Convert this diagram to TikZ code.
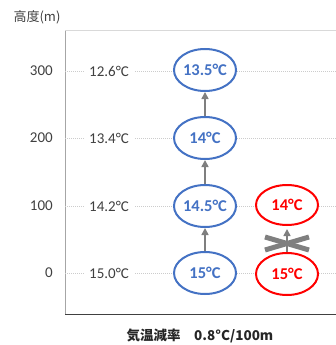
\documentclass[tikz,border=0pt]{standalone}
\usepackage{fontspec}
\setmainfont{Carlito}
\newfontfamily\jp{Noto Sans CJK JP}
\usetikzlibrary{arrows.meta,shapes.geometric}
\definecolor{bl}{HTML}{4472C4}
\definecolor{rd}{HTML}{FF0000}
\definecolor{txt}{HTML}{404040}
\definecolor{arrgray}{HTML}{7F7F7F}
\definecolor{gridc}{HTML}{CCCCCC}
\tikzset{
  grid/.style={gridc, line width=0.5pt, dash pattern=on 1pt off 1pt},
  lab/.style={text=txt, font=\fontsize{15}{17}\selectfont, fill=white, inner xsep=5pt, inner ysep=2pt},
  ylab/.style={text=txt, font=\fontsize{15}{17}\selectfont, anchor=east, inner sep=0pt},
  bub/.style={shape=ellipse, minimum width=62pt, minimum height=42pt, inner sep=0pt, line width=2pt, fill=white, font=\fontsize{16.5}{18}\selectfont\bfseries},
  bbub/.style={bub, draw=bl, text=bl},
  rbub/.style={bub, draw=rd, text=rd},
  arr/.style={arrgray, line width=1.6pt, -{Triangle[length=7pt,width=7pt]}},
  crossbar/.style={arrgray, line width=5pt}
}
\begin{document}
\begin{tikzpicture}[x=1pt,y=-1pt]
\useasboundingbox (0,0) rectangle (336,345);
% frame
\draw[color=black!15, line width=1pt] (65,31) -- (336,31);
\draw[color=black!35, line width=1pt] (65,31) -- (65,314);
\draw[color=black!75, line width=1pt] (65,314) -- (336,314);
% grid lines
\foreach \y in {71,138,206,273} \draw[grid] (65,\y) -- (336,\y);
% axis title
\node[text=txt, font=\jp\fontsize{13}{15}\selectfont, inner sep=0pt] (ytitle) at (37,17) {高度(m)};
% y labels
\node[ylab] (y300) at (53,71) {300};
\node[ylab] (y200) at (53,138) {200};
\node[ylab] (y100) at (53,206) {100};
\node[ylab] (y0) at (53,273) {0};
% temperature labels
\node[lab] (t300) at (109,71) {12.6°C};
\node[lab] (t200) at (109,138) {13.4°C};
\node[lab] (t100) at (109,206) {14.2°C};
\node[lab] (t0) at (109,273) {15.0°C};
% blue parcels
\node[bbub] (b135) at (205,70) {13.5°C};
\node[bbub] (b14) at (205,138) {14°C};
\node[bbub] (b145) at (205,206) {14.5°C};
\node[bbub] (b15) at (205,273) {15°C};
% red parcels
\node[rbub, minimum height=40pt] (r14) at (287,205) {14°C};
\node[rbub] (r15) at (287,274) {15°C};
% arrows
\draw[arr] (b15) -- (b145);
\draw[arr] (b145) -- (b14);
\draw[arr] (b14) -- (b135);
\coordinate (rtip) at (287,229);
\draw[arr] (r15) -- (rtip);
% cross
\draw[crossbar] (265,237) -- (309,250);
\draw[crossbar] (265,250) -- (309,237);
% caption
\node[text=black!85, font=\jp\fontsize{13.5}{15}\selectfont\bfseries, inner sep=0pt] (cap) at (200,336) {気温減率　0.8°C/100m};
\end{tikzpicture}
\end{document}
